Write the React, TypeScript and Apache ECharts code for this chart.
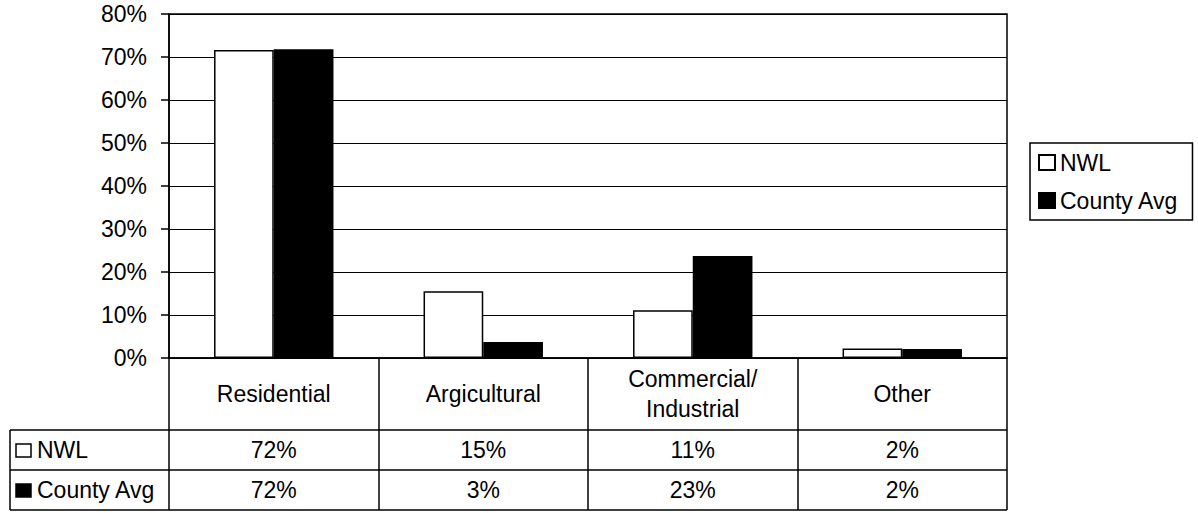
import React, { useEffect, useRef } from "react";
import * as echarts from "echarts";

const CATEGORIES = ["Residential", "Argicultural", "Commercial/\nIndustrial", "Other"];
const SERIES_NAMES = ["NWL", "County Avg"];
const NWL_VALUES = [71.6, 15.5, 11.1, 2.2];
const COUNTY_VALUES = [71.8, 3.7, 23.7, 2.1];
const NWL_TABLE = ["72%", "15%", "11%", "2%"];
const COUNTY_TABLE = ["72%", "3%", "23%", "2%"];
const Y_MAX = 80;
const Y_STEP = 10;

const FONT = "'Liberation Sans', Arial, Helvetica, sans-serif";
const FS = 23;

// layout
const W = 1198;
const H = 513;
const PL = 169;
const PR = 1007;
const PT = 14;
const PB = 358;
const ROW1 = 430;
const ROW2 = 470;
const ROW3 = 510;
const TABLE_LEFT = 10;

export default function App() {
  const ref = useRef<HTMLDivElement>(null);
  useEffect(() => {
    if (!ref.current) return;
    const chart = echarts.init(ref.current, null, { renderer: "svg" });
    const black = "#000";
    const valueAxis = (labels: string[], margin: number) => ({
      type: "category",
      data: CATEGORIES,
      gridIndex: 0,
      position: "bottom",
      axisLine: { show: false },
      axisTick: { show: false },
      splitLine: { show: false },
      axisLabel: {
        margin,
        verticalAlign: "middle",
        color: black,
        fontFamily: FONT,
        fontSize: FS,
        formatter: (_v: string, i: number) => labels[i],
      },
    });
    const hline = (y: number) => ({
      type: "line",
      shape: { x1: TABLE_LEFT, y1: y, x2: PR, y2: y },
      style: { stroke: black, lineWidth: 1.5 },
    });
    chart.setOption({
      animation: false,
      backgroundColor: "#fff",
      textStyle: { fontFamily: FONT, color: black },
      grid: {
        left: PL,
        right: W - PR,
        top: PT,
        bottom: H - PB,
        show: true,
        borderColor: black,
        borderWidth: 1.5,
        backgroundColor: "transparent",
      },
      legend: {
        data: SERIES_NAMES,
        orient: "vertical",
        left: 1030,
        top: 143,
        icon: "rect",
        itemWidth: 16,
        itemHeight: 15,
        itemGap: 15,
        padding: [8, 14, 8, 8],
        borderColor: black,
        borderWidth: 1.5,
        backgroundColor: "#fff",
        textStyle: { fontFamily: FONT, fontSize: FS, color: black },
      },
      xAxis: [
        {
          type: "category",
          data: CATEGORIES,
          position: "bottom",
          axisLine: { show: true, lineStyle: { color: black, width: 1.5 } },
          axisTick: {
            show: true,
            length: ROW3 - PB,
            lineStyle: { color: black, width: 1.5 },
          },
          splitLine: { show: false },
          axisLabel: {
            margin: 36,
            verticalAlign: "middle",
            lineHeight: 30,
            color: black,
            fontFamily: FONT,
            fontSize: FS,
            interval: 0,
          },
        },
        valueAxis(NWL_TABLE, (ROW1 + ROW2) / 2 - PB),
        valueAxis(COUNTY_TABLE, (ROW2 + ROW3) / 2 - PB),
      ],
      yAxis: {
        type: "value",
        min: 0,
        max: Y_MAX,
        interval: Y_STEP,
        axisLine: { show: true, lineStyle: { color: black, width: 1.5 } },
        axisTick: { show: true, length: 8, lineStyle: { color: black, width: 1.5 } },
        splitLine: { show: true, lineStyle: { color: black, width: 1.2 } },
        axisLabel: {
          margin: 22,
          color: black,
          fontFamily: FONT,
          fontSize: FS,
          formatter: "{value}%",
        },
      },
      series: [
        {
          name: SERIES_NAMES[0],
          type: "bar",
          data: NWL_VALUES,
          barGap: "0%",
          barCategoryGap: "43%",
          itemStyle: { color: "#fff", borderColor: black, borderWidth: 1.5 },
        },
        {
          name: SERIES_NAMES[1],
          type: "bar",
          data: COUNTY_VALUES,
          barGap: "0%",
          barCategoryGap: "43%",
          itemStyle: { color: black, borderColor: black, borderWidth: 1.5 },
        },
      ],
      graphic: [
        hline(ROW1),
        hline(ROW2),
        hline(ROW3),
        {
          type: "line",
          shape: { x1: TABLE_LEFT, y1: ROW1, x2: TABLE_LEFT, y2: ROW3 },
          style: { stroke: black, lineWidth: 1.5 },
        },
        {
          type: "rect",
          shape: { x: 16, y: (ROW1 + ROW2) / 2 - 6, width: 15, height: 13 },
          style: { fill: "#fff", stroke: black, lineWidth: 1.5 },
        },
        {
          type: "rect",
          shape: { x: 16, y: (ROW2 + ROW3) / 2 - 6, width: 15, height: 13 },
          style: { fill: black, stroke: black, lineWidth: 1.5 },
        },
        {
          type: "text",
          x: 37,
          y: (ROW1 + ROW2) / 2,
          style: {
            text: SERIES_NAMES[0],
            fill: black,
            font: `${FS}px ${FONT}`,
            verticalAlign: "middle",
          },
        },
        {
          type: "text",
          x: 37,
          y: (ROW2 + ROW3) / 2,
          style: {
            text: SERIES_NAMES[1],
            fill: black,
            font: `${FS}px ${FONT}`,
            verticalAlign: "middle",
          },
        },
      ],
    });
    return () => chart.dispose();
  }, []);
  return (
    <div
      ref={ref}
      style={{ position: "fixed", left: 0, top: 0, width: W, height: H, background: "#fff" }}
    />
  );
}
